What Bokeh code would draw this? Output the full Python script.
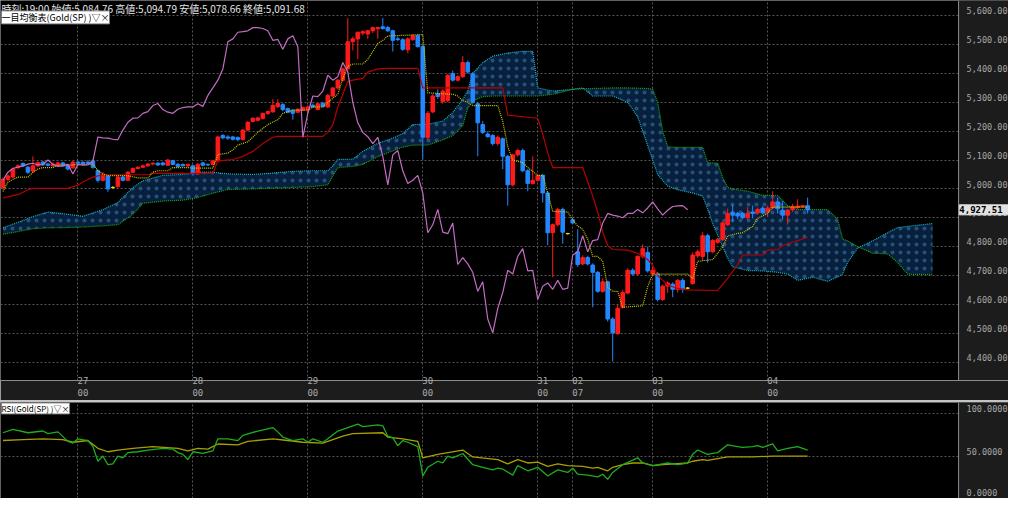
from bokeh.plotting import figure
from bokeh.layouts import column
from bokeh.models import Range1d, FixedTicker, Label, ColumnDataSource, BoxAnnotation, Span
from bokeh.embed import file_html
from bokeh.resources import INLINE

# ---------------- data ----------------
OPEN = [5004,5033,5041,5074,5088,5075,5062,5080,5093,5086,5080,5082,5090,5082,5073,5093,5092,5093,5097,5063,
        5030,5045,5005,5008,5041,5030,5058,5071,5075,5080,5086,5089,5090,5082,5098,5085,5085,5080,5080,5052,
        5090,5085,5085,5097,5185,5180,5180,5178,5171,5204,5234,5238,5245,5262,5267,5285,5292,5278,5273,5266,
        5273,5274,5290,5275,5297,5284,5322,5350,5377,5416,5510,5520,5540,5537,5548,5555,5562,5559,5548,5520,
        5517,5482,5517,5531,5493,5179,5267,5330,5303,5306,5400,5377,5389,5438,5399,5295,5223,5190,5185,5157,
        5174,5113,5014,5118,5133,5063,5019,5030,5047,4986,4848,4876,4929,4845,4893,4782,4740,4762,4736,4711,
        4645,4678,4549,4498,4590,4639,4718,4705,4766,4780,4705,4705,4617,4663,4670,4652,4683,4656,4672,4768,
        4766,4838,4782,4815,4824,4876,4918,4915,4915,4900,4920,4917,4933,4920,4934,4955,4926,4909,4928,4935,
        4938,4942]
HIGH = [5040,5050,5072,5085,5092,5080,5113,5096,5097,5090,5092,5094,5094,5086,5098,5097,5098,5099,5102,5068,
        5058,5050,5010,5046,5046,5062,5074,5078,5084,5090,5092,5093,5094,5104,5101,5090,5088,5088,5084,5090,
        5094,5088,5100,5185,5190,5186,5184,5182,5208,5235,5248,5250,5264,5272,5311,5311,5298,5282,5276,5280,
        5285,5290,5296,5298,5302,5330,5352,5380,5420,5592,5528,5545,5550,5552,5562,5562,5592,5565,5552,5528,
        5522,5525,5535,5536,5500,5270,5330,5345,5345,5398,5410,5395,5460,5445,5405,5300,5235,5200,5190,5185,
        5178,5118,5122,5140,5140,5068,5113,5050,5052,4990,4880,4935,4935,4848,4900,4860,4770,4768,4742,4715,
        4690,4682,4555,4600,4650,4725,4725,4770,4808,4800,4730,4712,4668,4680,4676,4688,4690,4660,4780,4790,
        4850,4845,4826,4830,4888,4932,4945,4920,4920,4937,4942,4935,4940,4942,4992,4970,4959,4930,4948,4964,
        4945,4970]
LOW = [4998,5028,5038,5068,5076,5052,5055,5076,5080,5078,5077,5078,5078,5064,5070,5085,5084,5086,5070,5022,
       5026,4990,5000,5004,5026,5028,5055,5068,5072,5077,5082,5080,5080,5080,5082,5074,5078,5076,5046,5048,
       5078,5080,5082,5094,5172,5170,5168,5165,5168,5200,5230,5234,5240,5256,5264,5280,5270,5262,5240,5262,
       5270,5262,5280,5272,5282,5280,5318,5345,5372,5410,5480,5449,5532,5520,5540,5520,5552,5544,5476,5512,
       5478,5470,5514,5490,5102,5170,5262,5312,5295,5300,5372,5372,5385,5400,5295,5113,5190,5178,5150,5150,
       5069,4942,5008,5112,5058,4992,5015,5025,4953,4805,4694,4870,4810,4842,4878,4730,4735,4735,4590,4640,
       4640,4540,4402,4494,4585,4635,4700,4700,4760,4710,4700,4610,4612,4640,4625,4640,4640,4652,4668,4760,
       4750,4744,4778,4810,4820,4872,4887,4895,4895,4893,4898,4912,4912,4903,4930,4915,4893,4876,4920,4930,
       4935,4915]
CLOSE = [5033,5045,5069,5080,5080,5058,5080,5091,5084,5082,5086,5090,5080,5069,5093,5089,5087,5089,5075,5030,
         5050,5000,5005,5041,5030,5058,5071,5075,5080,5086,5089,5083,5084,5100,5085,5078,5080,5085,5052,5085,
         5082,5083,5097,5180,5177,5176,5172,5171,5204,5231,5245,5246,5262,5268,5289,5296,5275,5266,5262,5276,
         5282,5284,5284,5295,5286,5324,5350,5377,5416,5510,5520,5543,5545,5548,5559,5559,5556,5548,5515,5518,
         5484,5520,5531,5493,5179,5262,5322,5320,5339,5394,5377,5389,5438,5405,5300,5229,5196,5181,5157,5179,
         5113,5014,5118,5133,5063,5019,5030,5047,4986,4848,4876,4929,4850,4845,4882,4738,4762,4740,4711,4645,
         4678,4549,4501,4586,4641,4718,4705,4766,4793,4716,4718,4617,4663,4674,4652,4683,4652,4656,4771,4782,
         4838,4782,4821,4824,4882,4915,4909,4906,4900,4915,4915,4929,4917,4934,4955,4931,4909,4926,4939,4941,
         4942,4927.51]

TENKAN_X = [0,1,2,3,5,6,7,8,10,11,18,19,20,21,25,26,27,29,30,31,33,34,37,38,42,43,45,46,47,49,
            51,53,55,56,58,61,62,64,65,67,68,69,70,72,73,75,76,77,84,85,90,91,92,93,94,99,100,101,102,104,
            105,107,108,109,110,113,114,115,116,117,118,119,120,121,122,123,124,128,129,130,137,138,139,142,144,145,147,148,150,151,
            153,154,161]
TENKAN = [4991,5024,5033,5041,5041,5058,5069,5074,5074,5082,5086,5063,5052,5046,5046,5042,5038,5038,5058,5063,
          5063,5074,5074,5072,5072,5119,5124,5135,5152,5163,5196,5223,5240,5262,5273,5273,5284,5284,5300,5328,
          5383,5425,5433,5433,5449,5504,5515,5530,5535,5333,5328,5322,5306,5300,5289,5289,5234,5146,5100,5091,
          5074,5047,5047,4986,4922,4920,4893,4871,4860,4826,4766,4766,4749,4660,4645,4645,4590,4595,4661,4705,
          4705,4689,4749,4755,4799,4837,4846,4848,4870,4898,4915,4937,4937]

KIJUN_X = [0,3,5,6,13,15,16,18,20,29,30,42,43,46,48,50,52,54,55,64,65,66,67,68,69,70,72,73,75,77,
           83,84,100,101,107,108,109,110,116,117,118,119,120,121,122,125,127,128,129,130,131,132,133,135,137,143,145,147,148,152,
           153,155,156,158,161]
KIJUN = [4969,4980,4997,5002,5002,5013,5024,5041,5049,5049,5054,5054,5097,5102,5113,5130,5157,5179,5182,5182,
         5196,5223,5284,5328,5372,5377,5383,5405,5416,5418,5418,5350,5350,5256,5245,5190,5124,5074,5074,5025,
         4975,4920,4850,4804,4790,4788,4777,4766,4755,4735,4700,4683,4667,4655,4650,4648,4690,4738,4771,4771,
         4788,4790,4804,4815,4832]

SPAN_X = [0,3,6,9,13,16,20,23,26,28,32,36,39,42,45,50,54,58,62,65,
          66,67,70,72,75,78,80,82,85,88,90,92,93,94,96,98,101,104,106,107,
          110,114,116,118,122,125,127,129,130,131,132,133,135,138,140,141,142,143,144,145,
          146,149,152,155,157,159,162,165,167,168,169,171,174,177,179,180,181,182,186]
SPAN_A = [4865,4884,4904,4920,4912,4905,4928,4953,5005,5028,5047,5050,5058,5058,5052,5050,5055,5061,5063,5063,
          5080,5102,5103,5130,5158,5176,5192,5223,5224,5235,5265,5310,5340,5400,5438,5460,5471,5477,5477,5350,
          5339,5345,5350,5322,5322,5300,5250,5150,5100,5050,5030,5010,4997,4986,4975,4930,4880,4840,4800,4760,
          4730,4717,4716,4711,4705,4683,4694,4680,4695,4705,4745,4795,4820,4848,4866,4868,4870,4872,4880]
SPAN_B = [4843,4852,4862,4865,4866,4868,4872,4876,4912,4950,4958,4961,4970,4985,4998,5000,5003,5005,5008,5014,
          5045,5074,5078,5085,5112,5132,5145,5152,5152,5170,5185,5220,5280,5305,5320,5322,5322,5322,5322,5322,
          5328,5345,5347,5348,5350,5350,5349,5348,5345,5300,5200,5146,5144,5144,5144,5091,5090,5089,5040,5005,
          5000,4992,4978,4977,4942,4928,4928,4928,4895,4826,4820,4800,4777,4775,4745,4725,4705,4704,4703]

CHIKOU_SHIFT = 24

RSI_G_X = [0,2,5,8,9,11,13,14,15,17,18,19,20,21,22,23,24,25,27,29,32,34,35,36,37,38,40,42,43,45,
           47,48,51,54,55,56,58,60,61,62,64,65,67,68,70,71,72,75,76,77,78,79,80,81,83,84,85,87,88,89,
           90,92,94,96,98,99,100,102,103,105,107,109,111,113,114,115,117,119,120,121,122,124,127,128,130,132,133,135,137,138,
           139,141,142,143,145,147,148,150,151,152,154,155,157,159,161]
RSI_G = [78,82,78,80,77,79,68,66,71,69,62,45,51,41,42,51,49,55,56,58,60,59,55,53,47,56,54,57,71,71,
         69,75,80,84,79,73,69,71,67,71,67,71,80,82,86,88,85,87,86,74,72,63,69,67,62,28,38,45,43,51,
         49,54,41,38,35,37,36,29,40,34,38,28,35,32,37,30,29,27,30,24,32,41,49,43,40,42,43,41,43,53,
         58,53,54,55,64,62,61,62,63,61,65,57,60,62,58]
RSI_Y_X = [0,4,8,12,14,17,19,21,23,26,30,35,37,39,41,43,47,49,54,57,60,64,68,70,76,77,80,83,84,87,
           92,94,99,101,103,105,107,109,111,113,116,118,119,121,122,124,126,128,130,132,137,138,140,141,143,145,150,154,161]
RSI_Y = [69,70,71,70,67,69,60,56,58,60,62,60,57,60,59,65,64,68,71,69,67,66,74,77,78,73,71,68,49,53,
         58,50,47,42,47,43,44,39,42,40,39,37,38,34,38,41,43,43,40,41,43,45,47,46,48,50,50,51,51]

PRICE_LEVELS = [4400,4500,4600,4700,4800,4900,5000,5100,5200,5300,5400,5500,5600]
DAY_TICKS = [15, 38, 61, 84, 107, 114, 130, 153]
DAY_LABELS = ["27\n00", "28\n00", "29\n00", "30\n00", "31\n00", "02\n07", "03\n00", "04\n00"]
RSI_LEVELS = [0, 50, 100]
RSI_LABEL_POS = [9, 56, 106]
LAST_PRICE = 4927.51
INFO = "時刻:19:00 始値:5,084.76 高値:5,094.79 安値:5,078.66 終値:5,091.68"

# ---------------- styling ----------------
BG = "black"
PANEL = "#1c1c1c"
GRID = "#555555"
EDGE = "#8c8c8c"
LBL = "#a8a8a8"
MONO = "DejaVu Sans Mono"
X_END = 201.19        # full canvas width in bar units
PANEL_X = 191.2       # start of the price-scale strip

xr = Range1d(-0.49, X_END)


def style_right_axis(ax, ticks, overrides):
    ax.fixed_location = PANEL_X
    ax.ticker = FixedTicker(ticks=ticks)
    ax.major_label_overrides = overrides
    ax.axis_line_color = None
    ax.major_tick_line_color = None
    ax.minor_tick_line_color = None
    ax.major_label_text_color = LBL
    ax.major_label_text_font = MONO
    ax.major_label_text_font_size = "8.5px"
    ax.major_label_standoff = 2


def add_panel(fig):
    fig.add_layout(BoxAnnotation(left=PANEL_X, fill_color=PANEL, fill_alpha=1.0,
                                 line_color=None, level="underlay"))
    fig.add_layout(Span(location=PANEL_X, dimension="height", line_color=EDGE, line_width=1))


p = figure(width=1008, height=400, x_range=xr, y_range=Range1d(4336, 5653),
           output_backend="svg", toolbar_location=None, y_axis_location="right",
           min_border_left=0, min_border_top=0, min_border_right=0, min_border_bottom=14,
           background_fill_color=BG, border_fill_color=PANEL, outline_line_color=None)

# grids
p.ygrid.ticker = FixedTicker(ticks=PRICE_LEVELS)
p.xgrid.ticker = FixedTicker(ticks=DAY_TICKS)
for g in (p.xgrid, p.ygrid):
    g.grid_line_color = GRID
    g.grid_line_dash = "2 2"
    g.grid_line_width = 1
add_panel(p)

# cloud
p.varea(x=SPAN_X, y1=SPAN_A, y2=SPAN_B, fill_color="#08203c", fill_alpha=1.0,
        hatch_pattern=".", hatch_color="#3a78b8", hatch_scale=8, hatch_weight=1, hatch_alpha=0.55)
p.line(SPAN_X, SPAN_A, line_color="#16b8c8", line_dash="1 1", line_width=1.2)
p.line(SPAN_X, SPAN_B, line_color="#1aa81a", line_dash="1 1", line_width=1.2)

# candles
idx = list(range(len(CLOSE)))
colors = ["#ff1a1a" if c > o else ("#2288ff" if c < o else "#e0e000") for o, c in zip(OPEN, CLOSE)]
src = ColumnDataSource(dict(x=idx, h=HIGH, l=LOW,
                            top=[max(o, c) for o, c in zip(OPEN, CLOSE)],
                            bottom=[min(o, c) for o, c in zip(OPEN, CLOSE)],
                            color=colors))
p.segment(x0="x", y0="l", x1="x", y1="h", line_color="color", line_width=1, source=src)
p.vbar(x="x", width=0.72, top="top", bottom="bottom", fill_color="color", line_color="color",
       line_width=1, source=src)

# ichimoku lines
p.line(KIJUN_X, KIJUN, line_color="#b80000", line_width=1.2)
p.line(TENKAN_X, TENKAN, line_color="#cccc00", line_width=1.2, line_dash="1 1")
chikou_x = [i - CHIKOU_SHIFT for i in range(CHIKOU_SHIFT, len(CLOSE))]
chikou_y = CLOSE[CHIKOU_SHIFT:]
p.line(chikou_x, chikou_y, line_color="#c46cc4", line_width=1.2)

# right price axis (labels sit just above gridlines)
style_right_axis(p.yaxis[0], [lv + 17 for lv in PRICE_LEVELS],
                 {lv + 17: f"{lv:,.2f}" for lv in PRICE_LEVELS})

# bottom date axis: day row sits inside the chart, hour row in the band below
xa = p.xaxis[0]
xa.ticker = FixedTicker(ticks=[t + 1 for t in DAY_TICKS])
xa.major_label_overrides = {t + 1: lab for t, lab in zip(DAY_TICKS, DAY_LABELS)}
xa.axis_line_color = EDGE
xa.major_tick_line_color = None
xa.minor_tick_line_color = None
xa.major_label_text_color = LBL
xa.major_label_text_font = MONO
xa.major_label_text_font_size = "9px"
xa.major_label_standoff = -11

# texts
p.add_layout(Label(x=-0.3, y=5653, text=INFO, text_color="#e6e6e6", text_font_size="10px",
                   text_font="Noto Sans CJK JP", text_baseline="top"))
p.add_layout(Label(x=-0.3, y=5617, text="一目均衡表(Gold(SP) )▽×", text_color="black",
                   text_font_size="9px", text_font="Noto Sans CJK JP", text_baseline="top",
                   background_fill_color="white", border_line_color="#808080"))
p.add_layout(Label(x=PANEL_X + 0.15, y=LAST_PRICE, text=" 4,927.51 ", text_color="black",
                   text_font_size="9px", text_font=MONO, text_font_style="bold",
                   text_baseline="middle", text_align="left",
                   background_fill_color="#e2e2e2", border_line_color="#e2e2e2"))

# ---------------- RSI panel ----------------
r = figure(width=1008, height=96, x_range=xr, y_range=Range1d(1.9, 113),
           output_backend="svg", toolbar_location=None, y_axis_location="right",
           x_axis_location=None,
           min_border_left=0, min_border_top=0, min_border_right=0, min_border_bottom=0,
           background_fill_color=BG, border_fill_color=PANEL, outline_line_color=None)
r.ygrid.ticker = FixedTicker(ticks=RSI_LEVELS)
r.xgrid.ticker = FixedTicker(ticks=DAY_TICKS)
for g in (r.xgrid, r.ygrid):
    g.grid_line_color = GRID
    g.grid_line_dash = "2 2"
add_panel(r)
r.line(RSI_Y_X, RSI_Y, line_color="#a8a000", line_width=1.3)
r.line(RSI_G_X, RSI_G, line_color="#1cae1c", line_width=1.3)
style_right_axis(r.yaxis[0], RSI_LABEL_POS,
                 {pos: f"{lv:.4f}" for pos, lv in zip(RSI_LABEL_POS, RSI_LEVELS)})
r.add_layout(Label(x=-0.3, y=112.5, text="RSI(Gold(SP) )▽×", text_color="black",
                   text_font_size="8px", text_font="Noto Sans CJK JP", text_baseline="top",
                   background_fill_color="white", border_line_color="#808080"))

layout = column(p, r, spacing=2, styles={"background-color": "#c4c4c4"})
open("out.html", "w").write(file_html(layout, INLINE))
